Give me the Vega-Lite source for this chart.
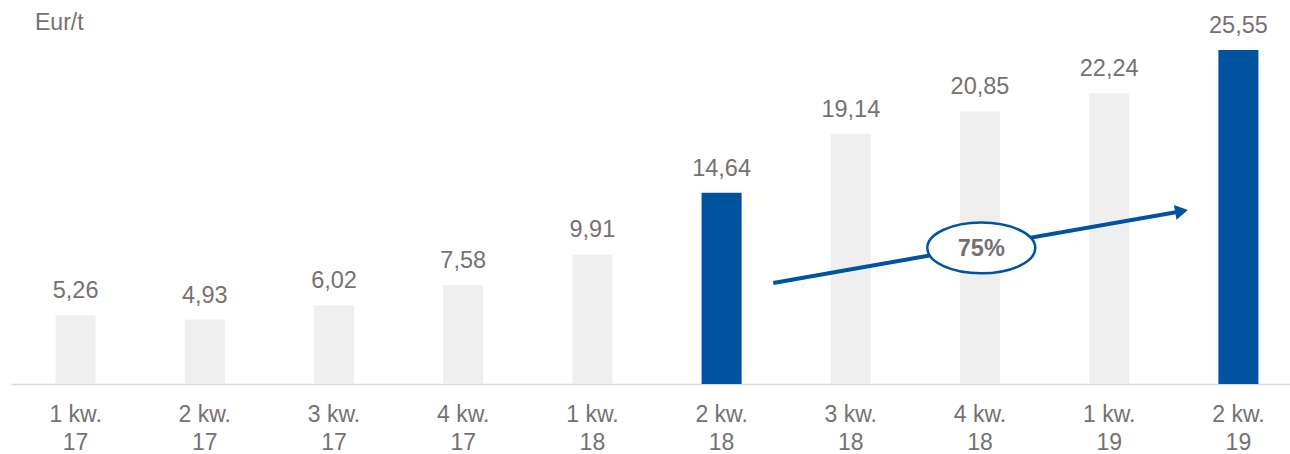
{
  "$schema": "https://vega.github.io/schema/vega-lite/v6.json",
  "width": 1292,
  "height": 344,
  "autosize": "none",
  "padding": {"left": 11, "top": 40, "right": 0, "bottom": 70},
  "background": "white",
  "config": {
    "view": {"stroke": null},
    "font": "Liberation Sans",
    "locale": {"number": {"decimal": ",", "thousands": " ", "grouping": [3], "currency": ["", " €"]}}
  },
  "datasets": {
    "bars": [
      {"q": "1 kw.|17", "v": 5.26},
      {"q": "2 kw.|17", "v": 4.93},
      {"q": "3 kw.|17", "v": 6.02},
      {"q": "4 kw.|17", "v": 7.58},
      {"q": "1 kw.|18", "v": 9.91},
      {"q": "2 kw.|18", "v": 14.64},
      {"q": "3 kw.|18", "v": 19.14},
      {"q": "4 kw.|18", "v": 20.85},
      {"q": "1 kw.|19", "v": 22.24},
      {"q": "2 kw.|19", "v": 25.55}
    ],
    "arrow": [
      {"ax": 5.9, "ay": 7.73},
      {"ax": 9.06, "ay": 13.22}
    ],
    "head": [{"ax": 9.06, "ay": 13.22}],
    "badge": [{"ax": 7.51, "ay": 10.41, "label": "75%"}],
    "unit": [{"ax": 0.186, "ay": 27.08, "label": "Eur/t"}]
  },
  "layer": [
    {
      "data": {"name": "bars"},
      "layer": [
        {
          "mark": {"type": "bar"},
          "encoding": {
            "x": {
              "field": "q", "type": "nominal", "sort": null,
              "scale": {"paddingInner": 0.69, "paddingOuter": 0.345},
              "axis": {
                "title": null,
                "labelExpr": "split(datum.label, '|')",
                "labelAngle": 0,
                "labelFontSize": 23,
                "labelColor": "#757171",
                "labelFont": "Liberation Sans",
                "labelLineHeight": 28,
                "labelPadding": 19,
                "ticks": false,
                "domainColor": "#d9d9d9",
                "domainWidth": 1.5,
                "grid": false
              }
            },
            "y": {
              "field": "v", "type": "quantitative",
              "scale": {"domain": [0, 26.32], "nice": false, "zero": true},
              "axis": null
            },
            "color": {
              "condition": {"test": "indexof(['2 kw.|18','2 kw.|19'], datum.q) >= 0", "value": "#00539F"},
              "value": "#EFEFEF"
            }
          }
        },
        {
          "mark": {"type": "text", "baseline": "alphabetic", "dy": -17, "fontSize": 23.5, "color": "#757171", "font": "Liberation Sans"},
          "encoding": {
            "x": {"field": "q", "type": "nominal", "sort": null},
            "y": {"field": "v", "type": "quantitative"},
            "text": {"field": "v", "type": "quantitative", "format": ".2f"}
          }
        }
      ]
    },
    {
      "layer": [
        {
          "data": {"name": "arrow"},
          "mark": {"type": "line", "color": "#00539F", "strokeWidth": 4},
          "encoding": {
            "x": {"field": "ax", "type": "quantitative", "scale": {"domain": [0, 10], "nice": false, "zero": false}, "axis": null},
            "y": {"field": "ay", "type": "quantitative"}
          }
        },
        {
          "data": {"name": "head"},
          "mark": {"type": "point", "shape": "triangle-right", "size": 220, "filled": true, "opacity": 1, "color": "#00539F", "angle": -10},
          "encoding": {
            "x": {"field": "ax", "type": "quantitative"},
            "y": {"field": "ay", "type": "quantitative"}
          }
        },
        {
          "data": {"name": "badge"},
          "mark": {
            "type": "point",
            "shape": "M -1 0 A 1 0.47 0 1 1 1 0 A 1 0.47 0 1 1 -1 0 Z",
            "size": 11664,
            "filled": false,
            "fill": "white",
            "fillOpacity": 1,
            "opacity": 1,
            "stroke": "#00539F",
            "strokeWidth": 2.5
          },
          "encoding": {
            "x": {"field": "ax", "type": "quantitative"},
            "y": {"field": "ay", "type": "quantitative"}
          }
        },
        {
          "data": {"name": "badge"},
          "mark": {"type": "text", "fontSize": 23.5, "fontWeight": "bold", "color": "#757171", "baseline": "middle", "dy": 1, "font": "Liberation Sans"},
          "encoding": {
            "x": {"field": "ax", "type": "quantitative"},
            "y": {"field": "ay", "type": "quantitative"},
            "text": {"field": "label"}
          }
        },
        {
          "data": {"name": "unit"},
          "mark": {"type": "text", "fontSize": 23, "color": "#757171", "align": "left", "baseline": "alphabetic", "font": "Liberation Sans"},
          "encoding": {
            "x": {"field": "ax", "type": "quantitative"},
            "y": {"field": "ay", "type": "quantitative"},
            "text": {"field": "label"}
          }
        }
      ]
    }
  ],
  "resolve": {"scale": {"x": "independent"}}
}
